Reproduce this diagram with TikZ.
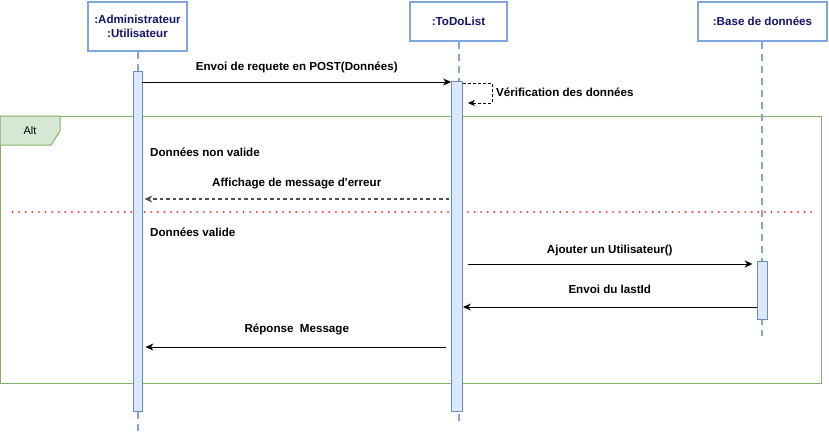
\documentclass[tikz,border=0pt]{standalone}
\usepackage{fontspec}
\setmainfont{Liberation Sans}
\usetikzlibrary{arrows.meta,positioning}
\definecolor{lifeblue}{RGB}{126,166,224}
\definecolor{objtext}{RGB}{20,20,110}
\definecolor{barfill}{RGB}{218,232,252}
\definecolor{barline}{RGB}{108,142,191}
\definecolor{altfill}{RGB}{213,232,212}
\definecolor{altline}{RGB}{130,179,102}
\definecolor{sepred}{RGB}{255,60,60}
\definecolor{retgray}{RGB}{80,80,80}
\newcommand{\lblfont}{\bfseries\fontsize{11.6}{14}\selectfont}

\begin{document}
\begin{tikzpicture}[x=1pt,y=-1pt,
  obj/.style={draw=lifeblue,line width=2pt,fill=white,text=objtext,font=\lblfont,align=center,inner sep=0pt},
  bar/.style={draw=barline,fill=barfill,line width=0.8pt,inner sep=0pt},
  life/.style={draw=lifeblue,line width=2pt,dash pattern=on 7pt off 5pt},
  msg/.style={-{Stealth[length=8pt,width=7pt,inset=2.5pt]},line width=1pt},
  ret/.style={msg,draw=retgray,dash pattern=on 3.5pt off 3pt,line width=1.4pt},
  lbl/.style={font=\lblfont,inner sep=0pt}]
\useasboundingbox (0,0) rectangle (829,432);

% alt frame
\draw[altline,line width=1pt] (0,116) rectangle (821,383);
\draw[altline,line width=1pt,fill=altfill] (0,116) -- (60,116) -- (60,131) -- (51,145) -- (0,145) -- cycle;
\node[font=\fontsize{11}{13}\selectfont] (alt) at (30,131) {Alt};
\draw[sepred,line width=2.2pt,line cap=round,dash pattern=on 0pt off 6.6pt] (12.5,212) -- (815,212);

\node[obj,minimum width=99pt,minimum height=49pt] (AU) at (137.5,26.5) {:Administrateur\\:Utilisateur};
\node[obj,minimum width=97pt,minimum height=39pt] (TD) at (458.5,21.5) {:ToDoList};
\node[obj,minimum width=129pt,minimum height=39pt] (BD) at (762.5,21.5) {:Base de données};

\coordinate (AUend) at (137.5,432);
\coordinate (TDend) at (458.5,423);
\coordinate (BDend) at (762,336);
\draw[life] (AU.south) -- (AUend);
\draw[life] (TD.south) -- (TDend);
\draw[life] (BD.south -| BDend) -- (BDend);

\node[bar,minimum width=9pt,minimum height=340pt] (BA) at (137.5,241) {};
\node[bar,minimum width=11pt,minimum height=330pt] (BT) at (457,246) {};
\node[bar,minimum width=10pt,minimum height=58pt] (BB) at (762,290) {};

\draw[msg] (BA.east |- 0,82) -- (BT.west |- 0,82) node[lbl,midway,above=9pt] {Envoi de requete en POST(Données)};

\coordinate (turn) at (492,93);
\draw[-{Stealth[length=7pt,width=6pt,inset=2pt]},line width=0.8pt,dash pattern=on 3pt off 2pt,shorten >=5pt]
  (BT.east |- 0,83) -| (turn) |- (BT.east |- 0,103);
\node[lbl,anchor=west] (verif) at (496,92) {Vérification des données};

\node[lbl,anchor=west] (nonvalide) at (150,152) {Données non valide};
\draw[ret,shorten <=2pt,shorten >=2pt] (BT.west |- 0,199) -- (BA.east |- 0,199) node[lbl,midway,above=9pt] {Affichage de message d\textquotesingle erreur};

\node[lbl,anchor=west] (valide) at (150,232) {Données valide};
\draw[msg,shorten <=5pt,shorten >=4pt] (BT.east |- 0,264) -- (BB.west |- 0,264) node[lbl,midway,above=8pt] {Ajouter un Utilisateur()};
\draw[msg] (BB.west |- 0,307) -- (BT.east |- 0,307) node[lbl,midway,above=13pt] {Envoi du lastId};
\draw[msg,shorten <=5pt,shorten >=3pt] (BT.west |- 0,347) -- (BA.east |- 0,347) node[lbl,midway,above=12pt] {Réponse\ \ Message};

% \draw (BD.south) -- (BB);
\end{tikzpicture}
\end{document}
